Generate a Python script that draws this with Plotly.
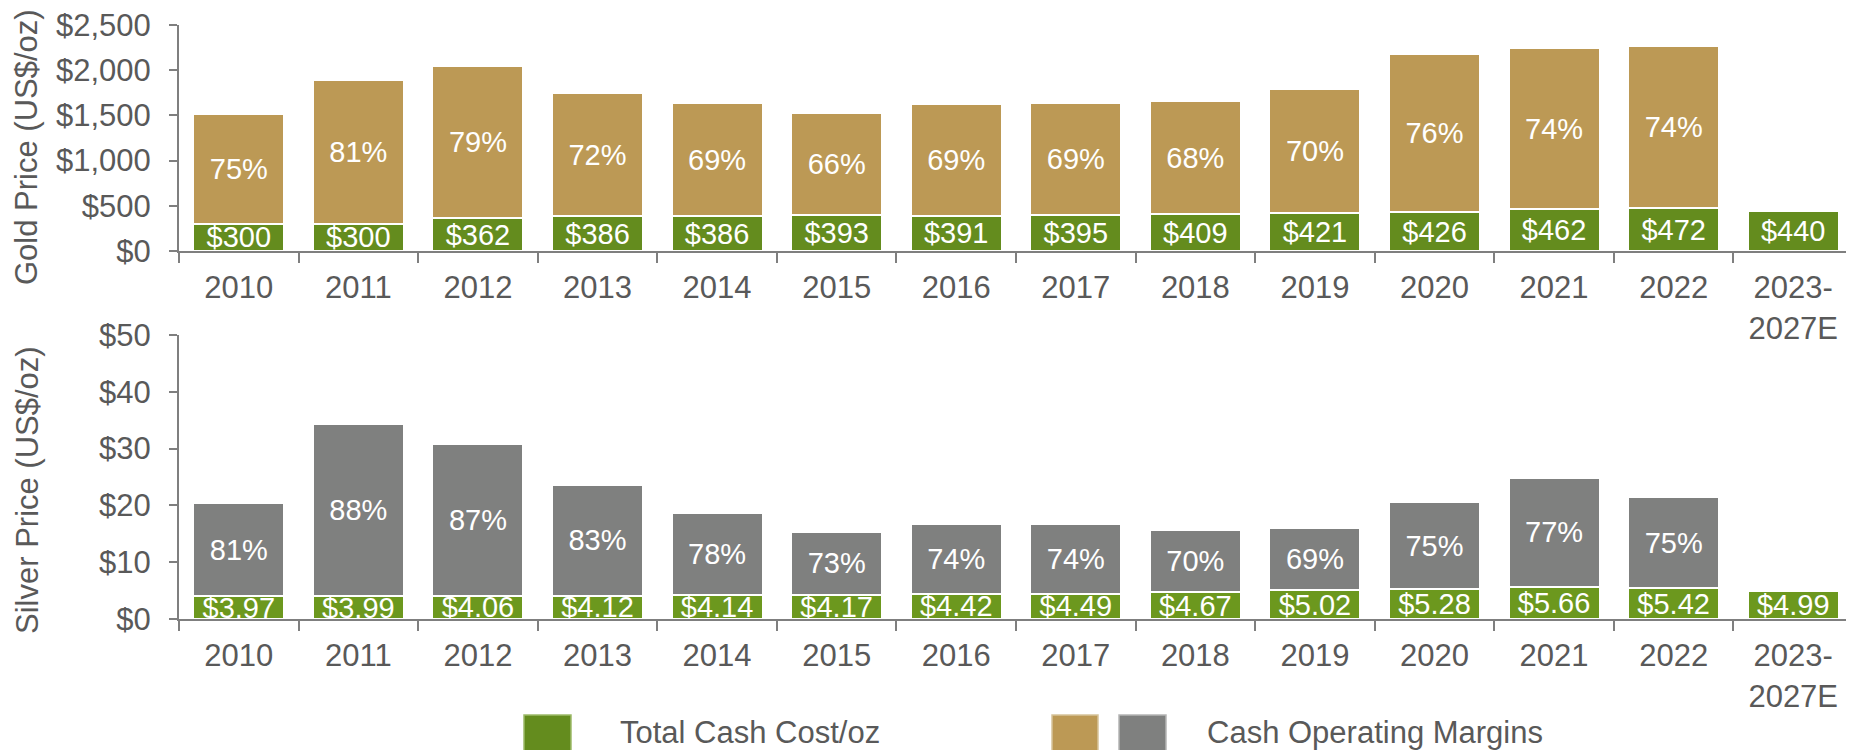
import plotly.graph_objects as go
from plotly.subplots import make_subplots

categories = ["2010", "2011", "2012", "2013", "2014", "2015", "2016", "2017",
              "2018", "2019", "2020", "2021", "2022", "2023-<br>2027E"]

gold_cost = [300, 300, 362, 386, 386, 393, 391, 395, 409, 421, 426, 462, 472, 440]
gold_price = [1512, 1892, 2046, 1748, 1634, 1530, 1623, 1637, 1656, 1796, 2179, 2246, 2264, None]
gold_margin_pct = ["75%", "81%", "79%", "72%", "69%", "66%", "69%", "69%", "68%", "70%",
                   "76%", "74%", "74%", ""]

silver_cost = [3.97, 3.99, 4.06, 4.12, 4.14, 4.17, 4.42, 4.49, 4.67, 5.02, 5.28, 5.66, 5.42, 4.99]
silver_price = [20.5, 34.4, 30.8, 23.6, 18.7, 15.4, 16.7, 16.8, 15.6, 16.1, 20.6, 24.85, 21.5, None]
silver_margin_pct = ["81%", "88%", "87%", "83%", "78%", "73%", "74%", "74%", "70%", "69%",
                     "75%", "77%", "75%", ""]

gold_ticks = [0, 500, 1000, 1500, 2000, 2500]
gold_ticktext = ["$0", "$500", "$1,000", "$1,500", "$2,000", "$2,500"]
silver_ticks = [0, 10, 20, 30, 40, 50]
silver_ticktext = ["$0", "$10", "$20", "$30", "$40", "$50"]

# styling
FONT = "Liberation Sans, Arial, sans-serif"
TXT = "#595959"
AXIS = "#7f7f7f"
GREEN_G = "#648C1E"
GREEN_S = "#6C981E"
GOLD = "#BC9955"
GRAY = "#7F807F"

W, H = 1854, 750
PAGE_OFF = 8  # default body margin of the html page
# plot-area edges in page pixels
L, R, T, B = 179, 1853, 25, 619


def px_x(px):
    return (px - L) / (R - L)


def px_y(py):
    return (B - py) / (B - T)


def margin(price, cost):
    return [None if p is None else p - c for p, c in zip(price, cost)]


fig = make_subplots(rows=2, cols=1, shared_xaxes=False, vertical_spacing=0.05)

cost_labels_g = ["$%d" % v for v in gold_cost]
cost_labels_s = ["$%.2f" % v for v in silver_cost]

common = dict(textposition="inside", insidetextanchor="middle", textangle=0,
              constraintext="none", cliponaxis=False,
              textfont=dict(family=FONT, size=29, color="white"),
              hoverinfo="skip", showlegend=False)

fig.add_trace(go.Bar(x=categories, y=gold_cost, text=cost_labels_g,
                     marker=dict(color=GREEN_G, line=dict(color="white", width=2)),
                     **common), row=1, col=1)
fig.add_trace(go.Bar(x=categories, y=margin(gold_price, gold_cost), text=gold_margin_pct,
                     marker=dict(color=GOLD, line=dict(color="white", width=2)),
                     **common), row=1, col=1)
fig.add_trace(go.Bar(x=categories, y=silver_cost, text=cost_labels_s,
                     marker=dict(color=GREEN_S, line=dict(color="white", width=2)),
                     **common), row=2, col=1)
fig.add_trace(go.Bar(x=categories, y=margin(silver_price, silver_cost), text=silver_margin_pct,
                     marker=dict(color=GRAY, line=dict(color="white", width=2)),
                     **common), row=2, col=1)

xax = dict(type="category", showline=True, linecolor=AXIS, linewidth=2,
           ticks="outside", tickson="boundaries", ticklen=10, tickwidth=2, tickcolor=AXIS,
           tickfont=dict(family=FONT, size=31, color=TXT), showgrid=False, zeroline=False,
           ticklabelstandoff=8, automargin=False, ticklabeloverflow="allow")
yax = dict(showline=True, linecolor=AXIS, linewidth=2, ticks="outside", ticklen=8,
           tickwidth=2, tickcolor=AXIS, tickmode="array",
           tickfont=dict(family=FONT, size=31, color=TXT), showgrid=False, zeroline=False,
           ticklabelstandoff=12, automargin=False, ticklabeloverflow="allow")

fig.update_xaxes(**xax)
fig.update_layout(
    xaxis=dict(domain=[0, 1]),
    xaxis2=dict(domain=[0, 1]),
    yaxis=dict(domain=[px_y(251), 1], range=[0, 2500], tickvals=gold_ticks,
               ticktext=gold_ticktext, **yax),
    yaxis2=dict(domain=[0, px_y(335)], range=[0, 50], tickvals=silver_ticks,
                ticktext=silver_ticktext, **yax),
)

annotations = [
    dict(text="Gold Price (US$/oz)", x=px_x(27), y=px_y(147), xref="paper", yref="paper",
         textangle=-90, showarrow=False, xanchor="center", yanchor="middle",
         font=dict(family=FONT, size=31, color=TXT)),
    dict(text="Silver Price (US$/oz)", x=px_x(27), y=px_y(490), xref="paper", yref="paper",
         textangle=-90, showarrow=False, xanchor="center", yanchor="middle",
         font=dict(family=FONT, size=31, color=TXT)),
    dict(text="Total Cash Cost/oz", x=px_x(618), y=px_y(733), xref="paper", yref="paper",
         showarrow=False, xanchor="left", yanchor="middle",
         font=dict(family=FONT, size=31, color=TXT)),
    dict(text="Cash Operating Margins", x=px_x(1205), y=px_y(733), xref="paper", yref="paper",
         showarrow=False, xanchor="left", yanchor="middle",
         font=dict(family=FONT, size=31, color=TXT)),
]

legend_boxes = [
    (524, 571, GREEN_G, "#9DBB6A"),
    (1052, 1098, GOLD, "#D6C39A"),
    (1119, 1166, GRAY, "#B5B5B5"),
]
shapes = []
for x0, x1, fill, edge in legend_boxes:
    shapes.append(dict(type="rect", xref="paper", yref="paper",
                       x0=px_x(x0), x1=px_x(x1), y0=px_y(762), y1=px_y(715),
                       fillcolor=fill, line=dict(color=edge, width=1.5)))

fig.update_layout(
    template="none",
    width=W, height=H,
    margin=dict(l=L - PAGE_OFF, r=W - (R - PAGE_OFF), t=T - PAGE_OFF, b=H - (B - PAGE_OFF),
                autoexpand=False),
    barmode="stack", bargap=0.24,
    plot_bgcolor="white", paper_bgcolor="white",
    font=dict(family=FONT, color=TXT),
    annotations=annotations, shapes=shapes,
    showlegend=False,
)

fig.write_html("out.html")
